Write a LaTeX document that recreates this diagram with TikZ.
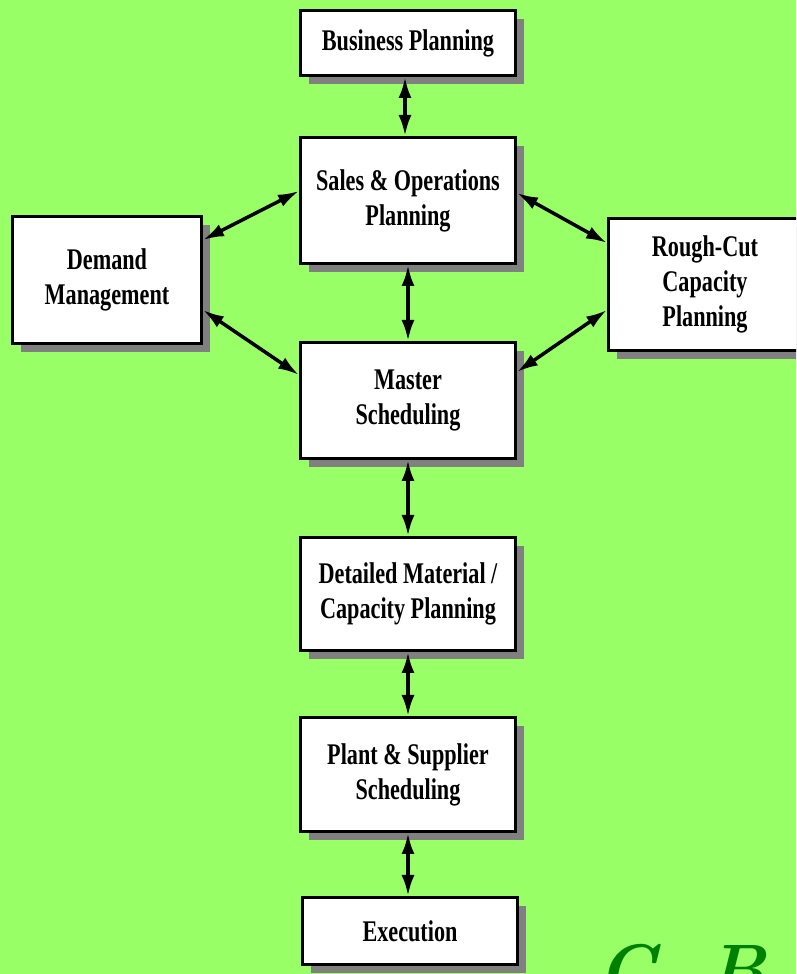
\documentclass[tikz,border=0pt]{standalone}
\usepackage{fontspec}
\usepackage{xcolor}
\usetikzlibrary{arrows.meta,shadows}
\newfontfamily\boxfont[FakeStretch=0.74]{Liberation Serif}
\definecolor{bggreen}{RGB}{153,255,102}
\definecolor{shadowgray}{RGB}{128,128,128}
\definecolor{inkgreen}{RGB}{0,128,0}
\tikzset{
  stage/.style={rectangle, draw=black, line width=3pt, fill=white, align=center,
    minimum width=215pt, inner sep=2pt,
    font=\boxfont\bfseries\fontsize{30}{35}\selectfont,
    drop shadow={shadow xshift=8pt, shadow yshift=-9pt, fill=shadowgray, opacity=1}},
  link/.style={draw=black, line width=3.5pt, {Latex[length=21pt,width=13pt]}-{Latex[length=21pt,width=13pt]}}
}

\begin{document}
\begin{tikzpicture}[x=1pt, y=1pt]
\useasboundingbox (0,0) rectangle (796,974);
\clip (0,0) rectangle (796,974);
\fill[bggreen] (0,0) rectangle (796,974);
% planning levels
\node[stage, minimum height=65pt] (biz) at (408,931) {Business Planning};
\node[stage, minimum height=126pt] (sop) at (408,773.5) {Sales \& Operations\\Planning};
\node[stage, minimum width=189pt, minimum height=127pt] (dem) at (107,694) {Demand\\Management};
\node[stage, minimum width=193pt, minimum height=132pt] (rcc) at (705,689.5) {Rough-Cut\\Capacity\\Planning};
\node[stage, minimum height=116pt] (mps) at (408,573.5) {Master\\Scheduling};
\node[stage, minimum height=113pt] (mrp) at (408,380) {Detailed Material /\\Capacity Planning};
\node[stage, minimum height=114pt] (psc) at (408,199.5) {Plant \& Supplier\\Scheduling};
\node[stage, minimum height=67pt] (exe) at (410,43) {Execution};
% links
\draw[link] ([xshift=-3pt]biz.south) -- ([xshift=-3pt]sop.north);
\draw[link] (sop) -- (mps);
\draw[link] (mps) -- (mrp);
\draw[link] (mrp) -- (psc);
\draw[link] (psc) -- ([xshift=-2pt]exe.north);
\draw[link] ([yshift=-25pt]dem.north east) -- ([yshift=-55pt]sop.north west);
\draw[link] ([yshift=35pt]dem.south east) -- ([yshift=-34pt]mps.north west);
\draw[link] ([yshift=-57pt]sop.north east) -- ([yshift=-26pt]rcc.north west);
\draw[link] ([yshift=-31pt]mps.north east) -- ([yshift=42pt]rcc.south west);
% signature
\node[anchor=base west, text=inkgreen, font=\bfseries\itshape\fontsize{70}{70}\selectfont, inner sep=0pt] (sig) at (597,-19) {C. B};
\end{tikzpicture}
\end{document}
